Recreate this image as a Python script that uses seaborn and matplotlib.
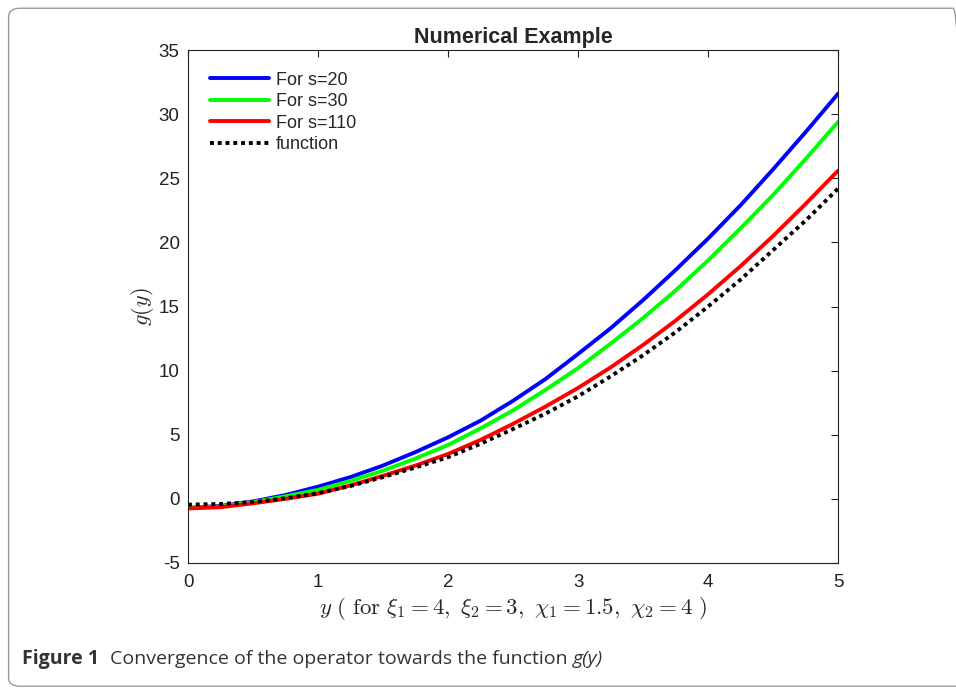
import numpy as np
import pandas as pd
import matplotlib
matplotlib.use("Agg")
import matplotlib.pyplot as plt
import seaborn as sns
from matplotlib.patches import FancyBboxPatch

# values (step 0.25)
y_pts = [0, 0.25, 0.5, 0.75, 1, 1.25, 1.5, 1.75, 2, 2.25, 2.5,
         2.75, 3, 3.25, 3.5, 3.75, 4, 4.25, 4.5, 4.75, 5]
g_s20 = [-0.7, -0.55, -0.2, 0.3, 0.95, 1.7, 2.6, 3.65, 4.8, 6.1, 7.65,
         9.35, 11.3, 13.3, 15.5, 17.85, 20.3, 22.9, 25.7, 28.6, 31.6]
g_s30 = [-0.7, -0.6, -0.25, 0.2, 0.7, 1.4, 2.2, 3.15, 4.2, 5.5, 6.9,
         8.5, 10.2, 12.1, 14.1, 16.25, 18.6, 21.1, 23.7, 26.5, 29.4]
g_s110 = [-0.75, -0.65, -0.35, 0.0, 0.4, 1.05, 1.8, 2.6, 3.5, 4.6, 5.85,
          7.2, 8.65, 10.25, 12.0, 13.9, 15.95, 18.15, 20.5, 23.0, 25.6]
g_func = [-0.45, -0.4, -0.25, 0.05, 0.45, 1.0, 1.7, 2.45, 3.25, 4.3, 5.45,
          6.65, 8.0, 9.55, 11.2, 13.0, 15.0, 17.1, 19.4, 21.7, 24.2]

series_names = ["For s=20", "For s=30", "For s=110", "function"]
colors = ["#0000ff", "#00ff00", "#ff0000", "black"]

sns.set_style("white")
plt.rcParams['font.family'] = ['Liberation Sans', 'DejaVu Sans']
plt.rcParams['mathtext.fontset'] = 'cm'
plt.rcParams['axes.unicode_minus'] = False

fig = plt.figure(figsize=(9.56, 6.89), dpi=100)
ax = fig.add_axes([0.1967, 0.1829, 0.68, 0.7445])

# rounded frame around the figure (right side runs off the page)
frame = FancyBboxPatch((0.009, 0.004), 1.0, 0.984, transform=fig.transFigure,
                       boxstyle="round,pad=0,rounding_size=0.012",
                       fc="none", ec="#9a9a9a", lw=1.0, clip_on=False)
fig.patches.append(frame)

for name, vals, c in zip(series_names, [g_s20, g_s30, g_s110, g_func], colors):
    df = pd.DataFrame({"y": y_pts, "g": vals})
    if name == "function":
        sns.lineplot(data=df, x="y", y="g", ax=ax, color=c, lw=2.8, label=name,
                     linestyle=(0, (1, 1)))
    else:
        sns.lineplot(data=df, x="y", y="g", ax=ax, color=c, lw=2.8, label=name)

ax.set_xlim(0, 5)
ax.set_ylim(-5, 35)
ax.set_xticks(range(0, 6))
ax.set_yticks(range(-5, 36, 5))
ax.tick_params(direction="in", length=5, width=0.8, top=True, right=True,
               labelsize=13.5, colors="#222222")
ax.tick_params(axis="x", pad=8)
ax.tick_params(axis="y", pad=6)
for sp in ax.spines.values():
    sp.set_linewidth(0.8)
    sp.set_color("#222222")

ax.set_title("Numerical Example", fontsize=15.5, fontweight="bold", pad=5)
ax.set_xlabel(r"$y\ (\ \mathrm{for}\ \xi_1=4,\ \xi_2=3,\ \chi_1=1.5,\ \chi_2=4\ )$",
              fontsize=16.5, labelpad=3)
ax.set_ylabel(r"$g(y)$", fontsize=16, labelpad=2)

leg = ax.legend(loc="upper left", frameon=False, fontsize=13, handlelength=3.3,
                handletextpad=0.35, labelspacing=0.25, borderaxespad=0.8,
                bbox_to_anchor=(0.0, 1.0))

cap_font = ["Open Sans", "DejaVu Sans"]
fig.text(0.023, 0.037, "Figure 1", fontsize=14, fontweight="bold",
         family=cap_font, color="#333333")
t = fig.text(0.115, 0.037, "Convergence of the operator towards the function ",
             fontsize=14, family=cap_font, color="#333333")
fig.canvas.draw()
bb = t.get_window_extent().transformed(fig.transFigure.inverted())
fig.text(bb.x1, 0.037, "g(y)", fontsize=14, family=cap_font, style="italic",
         color="#333333")

fig.savefig("out.png", dpi=100)
